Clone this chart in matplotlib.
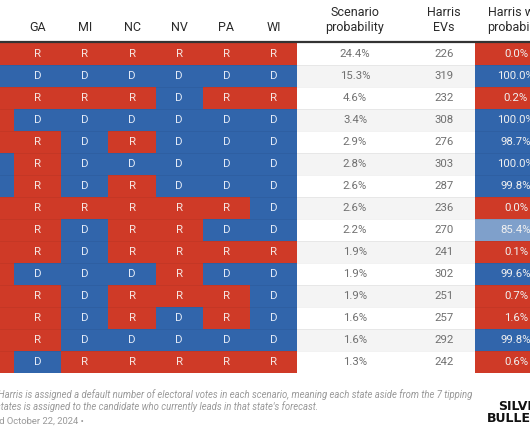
import matplotlib.pyplot as plt
from matplotlib.patches import Rectangle

# dati della tabella (AZ parzialmente tagliata a sinistra)
states = ['AZ', 'GA', 'MI', 'NC', 'NV', 'PA', 'WI']
outcomes = [
    'RRRRRRR',
    'DDDDDDD',
    'RRRRDRR',
    'RDDDDDD',
    'RRDRDDD',
    'DRDDDDD',
    'DRDRDDD',
    'RRRRRRD',
    'RRDRRDD',
    'RRDRRRR',
    'RDDDRDD',
    'RRDRRRD',
    'RRDRDRD',
    'RRDDDDD',
    'RDRRRRR',
]
scenario_prob = [24.4, 15.3, 4.6, 3.4, 2.9, 2.8, 2.6, 2.6, 2.2, 1.9, 1.9, 1.9, 1.6, 1.6, 1.3]
harris_evs = [226, 319, 232, 308, 276, 303, 287, 236, 270, 241, 302, 251, 257, 292, 242]
win_prob = [0.0, 100.0, 0.2, 100.0, 98.7, 100.0, 99.8, 0.0, 85.4, 0.1, 99.6, 0.7, 1.6, 99.8, 0.6]

RED = (0.812, 0.227, 0.153)
BLUE = (0.192, 0.396, 0.671)
FONT = 'Roboto'

# layout in pixel
x_state0 = -33.2
col_w = 47.2
y0 = 43
row_h = 22
x_prob = 355
x_evs = 444
x_win0 = 475
x_win = 516


def win_color(p):
    base = BLUE if p >= 50 else RED
    t = min(1.0, (abs(p - 50) / 45) ** 2)
    return tuple(1 - (1 - c) * t for c in base)


fig = plt.figure(figsize=(5.3, 4.42), dpi=100)
ax = fig.add_axes([0, 0, 1, 1])
ax.set_xlim(0, 530)
ax.set_ylim(442, 0)
ax.axis('off')

x_table_end = x_state0 + col_w * len(states)

for i, row in enumerate(outcomes):
    y = y0 + i * row_h
    # sfondo alternato per le colonne numeriche
    bg = 'white' if i % 2 == 0 else '#f4f4f4'
    ax.add_patch(Rectangle((x_table_end, y), x_win0 - x_table_end, row_h, color=bg, lw=0))
    for j, res in enumerate(row):
        x = x_state0 + j * col_w
        ax.add_patch(Rectangle((x, y), col_w, row_h, color=RED if res == 'R' else BLUE, lw=0))
        ax.text(x + col_w / 2, y + row_h / 2, res, ha='center', va='center', fontsize=8.2,
                family=FONT, color='#f6e6e2' if res == 'R' else '#e2eaf7')
    ax.text(x_prob, y + row_h / 2, f'{scenario_prob[i]:.1f}%', ha='center', va='center',
            fontsize=8.2, family=FONT, color='#707070')
    ax.text(x_evs, y + row_h / 2, f'{harris_evs[i]}', ha='center', va='center',
            fontsize=8.2, family=FONT, color='#707070')
    ax.add_patch(Rectangle((x_win0, y), 80, row_h, color=win_color(win_prob[i]), lw=0))
    ax.text(x_win, y + row_h / 2, f'{win_prob[i]:.1f}%', ha='center', va='center',
            fontsize=8.2, family=FONT, color='#f0f0f0')
    if i > 0:
        ax.plot([0, 530], [y, y], color='black', alpha=0.06, lw=0.6)

# intestazioni
for j, s in enumerate(states):
    ax.text(x_state0 + j * col_w + col_w / 2, 27.5, s, ha='center', va='center',
            fontsize=9, family=FONT, color='#2a2a2a')
for x, (l1, l2) in [(x_prob, ('Scenario', 'probability')), (x_evs, ('Harris', 'EVs')),
                    (x_win, ('Harris win', 'probability'))]:
    ax.text(x, 13, l1, ha='center', va='center', fontsize=9, family=FONT, color='#2a2a2a')
    ax.text(x, 27.5, l2, ha='center', va='center', fontsize=9, family=FONT, color='#2a2a2a')
ax.plot([0, 530], [42, 42], color='#333333', lw=1.6, solid_capstyle='butt')

# note
ax.text(-2, 395, 'Harris is assigned a default number of electoral votes in each scenario, '
        'meaning each state aside from the 7 tipping', ha='left', va='center', fontsize=6.85,
        family=FONT, style='italic', color='#999999')
ax.text(-3.5, 407, "states is assigned to the candidate who currently leads in that state's forecast.",
        ha='left', va='center', fontsize=6.85, family=FONT, style='italic', color='#999999')
ax.text(84, 422, 'Updated October 22, 2024 \u2022', ha='right', va='center', fontsize=6.8,
        family=FONT, color='#999999')

# logo
ax.text(498, 406, 'SILVER', ha='left', va='center', fontsize=9, family='DejaVu Sans',
        fontweight='bold', color='#111111')
ax.text(487, 418, 'BULLETIN', ha='left', va='center', fontsize=9, family='DejaVu Sans',
        fontweight='bold', color='#111111')

fig.savefig('out.png', dpi=100)
